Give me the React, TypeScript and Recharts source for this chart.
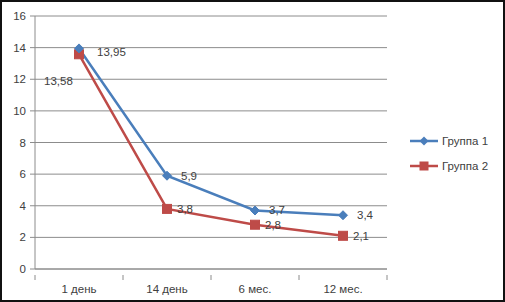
import React from 'react';
import { LineChart, Line, XAxis, YAxis, CartesianGrid } from 'recharts';

const categories = ['1 день', '14 день', '6 мес.', '12 мес.'];
const group1 = [13.95, 5.9, 3.7, 3.4];
const group2 = [13.58, 3.8, 2.8, 2.1];
const yTicks = [0, 2, 4, 6, 8, 10, 12, 14, 16];

const BLUE = '#4A7EBB';
const RED = '#BE4B48';
const TEXT = '#404040';
const AXIS = '#8c8c8c';
const FONT = '"Liberation Sans", Arial, sans-serif';

const data = categories.map((c, i) => ({ name: c, g1: group1[i], g2: group2[i] }));

const fmt = (v: number) => String(v).replace('.', ',');

const Diamond = (props: any) => {
  const { cx, cy } = props;
  if (cx == null || cy == null) return null;
  const r = 4.5;
  return <path d={`M${cx},${cy - r}L${cx + r},${cy}L${cx},${cy + r}L${cx - r},${cy}Z`} fill={BLUE} stroke={BLUE} />;
};

const Square = (props: any) => {
  const { cx, cy } = props;
  if (cx == null || cy == null) return null;
  return <rect x={cx - 4.5} y={cy - 4.5} width={9} height={9} fill={RED} stroke={RED} />;
};

// category label plus a small tick mark on the band boundary
const CatTick = (props: any) => {
  const { x, y, payload, index } = props;
  const off = payload?.offset ?? 0;
  const top = y - 10;
  return (
    <g>
      <line x1={x - off} y1={top} x2={x - off} y2={top + 5} stroke={AXIS} />
      {index === categories.length - 1 && (
        <line x1={x + off} y1={top} x2={x + off} y2={top + 5} stroke={AXIS} />
      )}
      <text x={x} y={y} dy="0.71em" textAnchor="middle" fill={TEXT} fontSize={11.5} fontFamily={FONT}>
        {payload.value}
      </text>
    </g>
  );
};

const label1 = (props: any) => {
  const { x, y, value, index } = props;
  return (
    <text x={x + (index === 0 ? 18 : 14)} y={y + (index === 0 ? 8 : 4)} fill={TEXT} fontSize={11.5} fontFamily={FONT}>
      {fmt(value)}
    </text>
  );
};

const label2 = (props: any) => {
  const { x, y, value, index } = props;
  if (index === 0) {
    return (
      <text x={x - 35} y={y + 31} fill={TEXT} fontSize={11.5} fontFamily={FONT}>
        {fmt(value)}
      </text>
    );
  }
  return (
    <text x={x + 10} y={y + 4} fill={TEXT} fontSize={11.5} fontFamily={FONT}>
      {fmt(value)}
    </text>
  );
};

const LegendItem = ({ color, label, square }: { color: string; label: string; square?: boolean }) => (
  <div style={{ display: 'flex', alignItems: 'center', height: 25 }}>
    <svg width={30} height={12}>
      <line x1={0} y1={6} x2={28} y2={6} stroke={color} strokeWidth={2.5} />
      {square ? (
        <rect x={9.5} y={1.5} width={9} height={9} fill={color} />
      ) : (
        <path d="M14,1.5L18.5,6L14,10.5L9.5,6Z" fill={color} />
      )}
    </svg>
    <span style={{ marginLeft: 2, fontSize: 11.5, color: TEXT, fontFamily: FONT }}>{label}</span>
  </div>
);

export default function App() {
  return (
    <div
      style={{
        position: 'fixed',
        left: 0,
        top: 0,
        width: 505,
        height: 302,
        boxSizing: 'border-box',
        border: '2px solid #111',
        background: '#fff',
      }}
    >
      <div style={{ position: 'absolute', left: -2, top: -2 }}>
        <LineChart width={505} height={302} data={data} margin={{ top: 16, right: 118, left: 10, bottom: 0 }}>
          <CartesianGrid vertical={false} stroke={AXIS} strokeWidth={1} />
          <XAxis
            dataKey="name"
            scale="band"
            height={33}
            axisLine={{ stroke: AXIS }}
            tickLine={false}
            tick={<CatTick />}
            tickMargin={10}
            interval={0}
          />
          <YAxis
            width={25}
            domain={[0, 16]}
            ticks={yTicks}
            axisLine={{ stroke: AXIS }}
            tickLine={{ stroke: AXIS }}
            tickSize={5}
            tick={{ fill: TEXT, fontSize: 11.5, fontFamily: FONT }}
            tickMargin={4}
          />
          <Line dataKey="g2" stroke={RED} strokeWidth={2.5} dot={<Square />} label={label2} isAnimationActive={false} />
          <Line dataKey="g1" stroke={BLUE} strokeWidth={2.5} dot={<Diamond />} label={label1} isAnimationActive={false} />
        </LineChart>
      </div>
      <div style={{ position: 'absolute', left: 408, top: 126 }}>
        <LegendItem color={BLUE} label="Группа 1" />
        <LegendItem color={RED} label="Группа 2" square />
      </div>
    </div>
  );
}
